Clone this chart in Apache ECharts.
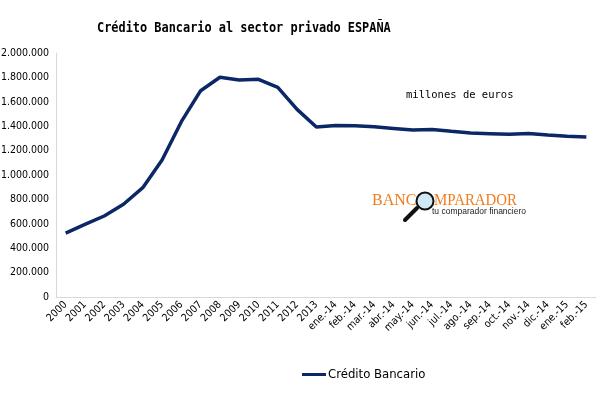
<!DOCTYPE html>
<html><head><meta charset="utf-8">
<script src="https://cdn.jsdelivr.net/npm/echarts@6/dist/echarts.min.js"></script>
<style>html,body{margin:0;padding:0;background:#fff}#c{width:600px;height:400px}</style>
</head><body><div id="c"></div>
<script>
var categories = ['2000','2001','2002','2003','2004','2005','2006','2007','2008','2009','2010','2011','2012','2013',
  'ene.-14','feb.-14','mar.-14','abr.-14','may.-14','jun.-14','jul.-14','ago.-14','sep.-14','oct.-14','nov.-14','dic.-14','ene.-15','feb.-15'];
var creditoBancario = [524000,595000,664000,760000,896000,1123000,1437000,1691000,1801000,1779000,1784000,1719000,1538000,1393000,
  1405000,1404000,1396000,1382000,1368000,1373000,1358000,1344000,1339000,1334000,1340000,1328000,1317000,1311000];
var seriesName = 'Crédito Bancario';
var titleText = 'Crédito Bancario al sector privado ESPAÑA';
var unitText = 'millones de euros';

var lbl = "'Liberation Sans Narrow','DejaVu Sans Condensed',sans-serif";
var chart = echarts.init(document.getElementById('c'), null, {renderer:'canvas'});
function fmt(v){ return String(v).replace(/\B(?=(\d{3})+(?!\d))/g,'.'); }
chart.setOption({
  animation:false,
  grid:{left:56, right:4, top:53, bottom:103, containLabel:false, outerBoundsMode:'none'},
  legend:{bottom:14, left:297, itemWidth:24, itemHeight:3, icon:'rect', itemGap:4,
    textStyle:{fontFamily:lbl, fontSize:13, color:'#000', padding:[0,0,0,-3]}, data:[seriesName]},
  xAxis:{type:'category', data:categories, boundaryGap:true,
    axisLine:{lineStyle:{color:'#d9d9d9', width:1}}, axisTick:{show:false},
    axisLabel:{rotate:45, interval:0, fontFamily:lbl, fontSize:10.5, color:'#000', margin:6}},
  yAxis:{type:'value', min:0, max:2000000, interval:200000,
    axisLine:{show:true, lineStyle:{color:'#d9d9d9'}}, axisTick:{show:false}, splitLine:{show:false},
    axisLabel:{formatter:fmt, fontFamily:lbl, fontSize:10.5, color:'#000', margin:7}},
  series:[{name:seriesName, type:'line', data:creditoBancario, symbol:'none', smooth:false,
    lineStyle:{color:'#0c2765', width:3.5}, itemStyle:{color:'#0c2765'}}],
  graphic:[
    {type:'text', x:97, y:21, scaleX:0.85, style:{text:titleText, font:"bold 14px 'DejaVu Sans Mono','Liberation Mono',monospace", fill:'#000'}},
    {type:'text', left:406, top:90, style:{text:unitText, font:"10.5px 'DejaVu Sans Mono','Liberation Mono',monospace", fill:'#000'}},
    {type:'text', x:372, y:193, style:{text:'BANC', font:"16px 'Liberation Serif','DejaVu Serif',serif", fill:'#f07c1c'}},
    {type:'text', x:434, y:193, scaleX:0.93, style:{text:'MPARADOR', font:"16px 'Liberation Serif','DejaVu Serif',serif", fill:'#f07c1c'}},
    {type:'line', shape:{x1:417,y1:208,x2:405,y2:220}, style:{stroke:'#111', lineWidth:4, lineCap:'round'}},
    {type:'circle', shape:{cx:425, cy:201, r:8.5}, style:{fill:'#cfeaf6', stroke:'#111', lineWidth:2}},
    {type:'text', x:432, y:207, style:{text:'tu comparador financiero', font:"8.5px 'Liberation Sans','DejaVu Sans',sans-serif", fill:'#222'}}
  ]
});
</script></body></html>
